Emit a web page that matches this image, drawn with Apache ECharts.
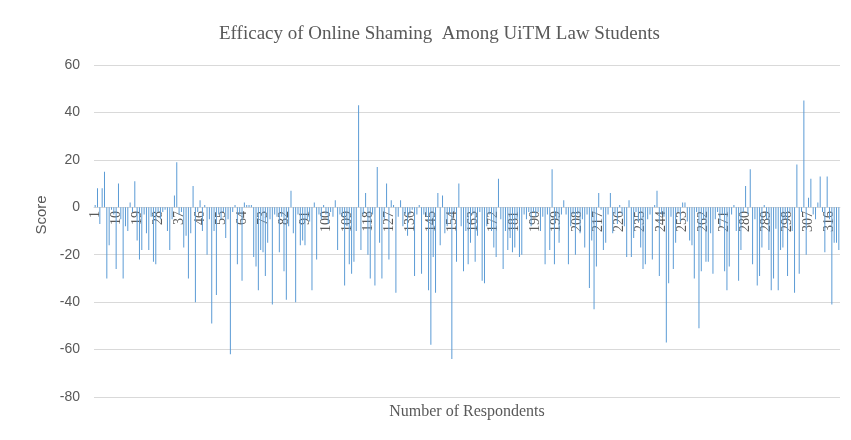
<!DOCTYPE html>
<html>
<head>
<meta charset="utf-8">
<script src="https://cdn.jsdelivr.net/npm/echarts@6/dist/echarts.min.js"></script>
<style>
  html, body { margin: 0; padding: 0; background: #fff; }
  #chart { width: 851px; height: 440px; }
</style>
</head>
<body>
<div id="chart"></div>
<script>
// respondents 1..320
var respondents = [];
for (var i = 1; i <= 320; i++) respondents.push(String(i));

// score per respondent
var scores = [
  1, 8, -7, 8, 15, -30, -16, -1, -3, -26,
  10, -5, -30, -8, -10, 2, -2, 11, -14, -22,
  -18, -3, -11, -18, -4, -23, -24, -2, -5, -2,
  -1, -10, -18, -5, 5, 19, -3, -2, -17, -12,
  -30, -11, 9, -40, -2, 3, -10, 1, -20, -5,
  -49, -10, -37, -3, -5, -2, -13, -5, -62, -2,
  1, -24, -3, -31, 2, 1, 1, 1, -21, -25,
  -35, -18, -19, -29, -15, -5, -41, -3, -4, -19,
  -4, -27, -39, -8, 7, -11, -40, -3, -16, -14,
  -16, -5, -6, -35, 2, -22, -3, -5, 1, -3,
  -7, -2, -4, 3, -18, -3, -4, -33, -8, -24,
  -28, -23, -10, 43, -18, -3, 6, -20, -30, -3,
  -33, 17, -15, -30, -5, 10, -22, 3, 1, -36,
  -4, 3, -8, -3, -12, -3, -1, -29, -3, 1,
  -28, -3, -4, -35, -58, -21, -36, 6, -16, 5,
  -11, -8, -3, -64, -2, -23, 10, -8, -27, -10,
  -24, -15, -3, -23, -12, -2, -31, -32, -8, -3,
  -10, -17, -21, 12, -5, -26, -10, -18, -13, -19,
  -17, -5, -21, -20, -3, -5, -2, -8, -2, -4,
  -2, -10, -4, -24, -3, -18, 16, -24, -5, -15,
  -3, 3, -3, -24, -8, -3, -20, -3, -11, -5,
  -17, -3, -34, -14, -43, -25, 6, -1, -18, -15,
  -3, 6, -11, -3, -7, 1, -3, -8, -21, 3,
  -21, -13, -2, -6, -17, -26, -24, -5, -3, -22,
  1, 7, -29, -3, -4, -57, -32, -4, -26, -15,
  -2, -6, 2, 2, -6, -14, -16, -30, -2, -51,
  -27, -5, -23, -23, -11, -28, -5, -2, -8, -3,
  -27, -35, -25, -3, 1, -10, -31, -18, -2, 9,
  -3, 16, -24, -5, -33, -29, -17, 1, -5, -18,
  -35, -30, -9, -35, -18, -17, -5, -29, -2, -10,
  -36, 18, -28, -2, 45, -20, 4, 12, -3, -5,
  2, 13, -2, -19, 13, -5, -41, -15, -15, -18
];

var chart = echarts.init(document.getElementById('chart'));
var option = {
  animation: false,
  title: {
    text: 'Efficacy of Online Shaming  Among UiTM Law Students',
    left: 214,
    top: 20,
    textStyle: {
      fontFamily: 'Liberation Serif',
      fontSize: 19,
      fontWeight: 'normal',
      color: '#595959'
    }
  },
  graphic: [{
    type: 'text',
    x: 42,
    y: 215,
    rotation: Math.PI / 2,
    style: {
      text: 'Score',
      fontFamily: 'Liberation Sans',
      fontSize: 15,
      fill: '#595959',
      align: 'center',
      verticalAlign: 'middle'
    }
  }],
  grid: {
    left: 94,
    right: 11,
    top: 65,
    bottom: 43,
    containLabel: false,
    outerBoundsMode: 'none'
  },
  xAxis: {
    type: 'category',
    data: respondents,
    offset: -190,
    name: 'Number of Respondents',
    nameLocation: 'middle',
    nameGap: 197,
    nameTextStyle: {
      fontFamily: 'Liberation Serif',
      fontSize: 16,
      color: '#595959'
    },
    axisLine: { onZero: false, lineStyle: { color: '#d9d9d9' } },
    axisTick: { show: false },
    axisLabel: {
      interval: 8,
      rotate: 90,
      fontFamily: 'Liberation Serif',
      fontSize: 14,
      color: '#595959',
      margin: 4
    }
  },
  yAxis: {
    type: 'value',
    min: -80,
    max: 60,
    interval: 20,
    axisLine: { show: false },
    axisTick: { show: false },
    axisLabel: {
      fontFamily: 'Liberation Sans',
      fontSize: 14,
      color: '#595959',
      margin: 14
    },
    splitLine: { lineStyle: { color: '#d9d9d9' } }
  },
  series: [{
    type: 'bar',
    data: scores,
    barWidth: 1,
    itemStyle: { color: '#5b9bd5' }
  }]
};
chart.setOption(option);
</script>
</body>
</html>
